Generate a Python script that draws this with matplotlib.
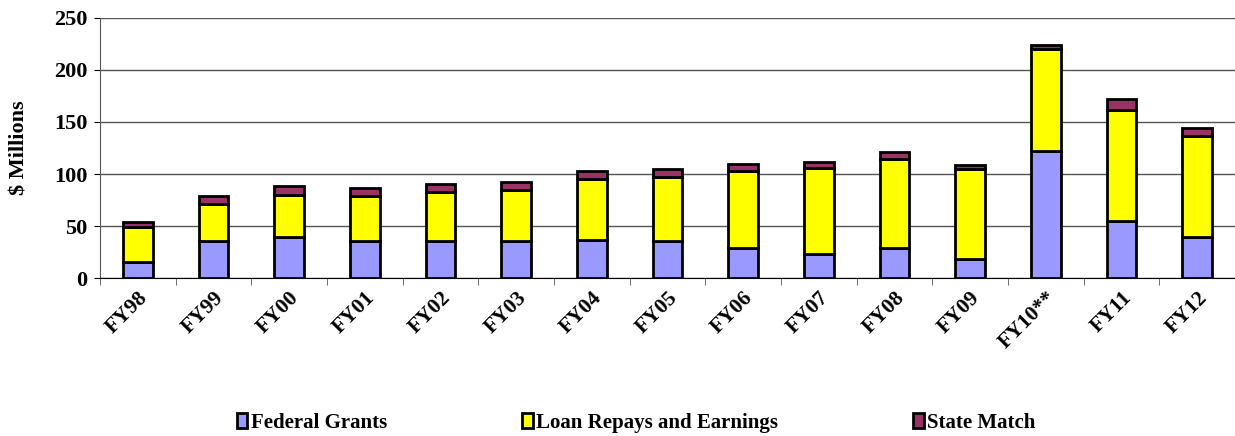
import matplotlib.pyplot as plt
import numpy as np

plt.rcParams['font.family'] = ['Liberation Serif', 'DejaVu Serif']
plt.rcParams['font.weight'] = 'bold'

# data ($ millions)
years = ['FY98', 'FY99', 'FY00', 'FY01', 'FY02', 'FY03', 'FY04', 'FY05',
         'FY06', 'FY07', 'FY08', 'FY09', 'FY10**', 'FY11', 'FY12']
federal = [16, 36, 39.6, 35.8, 35.5, 35.8, 36.8, 35.5, 29.4, 23.3, 29.1, 18.2, 121.8, 54.7, 40]
loan = [33.6, 35.3, 40.7, 43.2, 47, 49.2, 58.2, 61.4, 73.9, 82.9, 85.7, 87, 97.9, 106.5, 96.2]
state = [4.4, 7.7, 8.3, 8, 7.7, 7.7, 7.6, 8, 6.4, 5.4, 6.1, 3.8, 4.4, 11.1, 7.7]

fig = plt.figure(figsize=(12.35, 4.36), dpi=100)
ax = fig.add_axes([0.081, 0.362, 0.919, 0.597])

x = np.arange(len(years))
w = 0.39
ax.bar(x, federal, w, color='#9999ff', edgecolor='black', linewidth=2, label='Federal Grants', zorder=3)
ax.bar(x, loan, w, bottom=federal, color='#ffff00', edgecolor='black', linewidth=2,
       label='Loan Repays and Earnings', zorder=3)
ax.bar(x, state, w, bottom=np.add(federal, loan), color='#993366', edgecolor='black', linewidth=2,
       label='State Match', zorder=3)

ax.set_ylim(0, 250)
ax.set_xlim(-0.5, len(years) - 0.5)
ax.set_yticks(range(0, 251, 50))
ax.yaxis.grid(True, color='#555555', linewidth=1)
ax.set_axisbelow(True)

ax.set_xticks(x)
ax.set_xticklabels(years, rotation=45, ha='right', rotation_mode='anchor', fontsize=15.5, fontweight='bold')
ax.set_xticks(np.arange(-0.5, len(years)), minor=True)
ax.tick_params(axis='x', which='major', length=0, pad=7)
ax.tick_params(axis='x', which='minor', length=5, color='#555555')
ax.tick_params(axis='y', labelsize=16, length=4, pad=5)

for s in ['top', 'right']:
    ax.spines[s].set_visible(False)
ax.spines['left'].set_color('#555555')
ax.spines['bottom'].set_color('black')

ax.set_ylabel('$ Millions', fontsize=16, fontweight='bold', labelpad=18)

fig.legend(loc='lower center', bbox_to_anchor=(0.515, -0.035), ncol=3, frameon=False,
           prop={'size': 15, 'weight': 'bold'}, handlelength=0.5, handleheight=0.7,
           handletextpad=0.15, columnspacing=6.5)

fig.savefig('out.png', dpi=100)
